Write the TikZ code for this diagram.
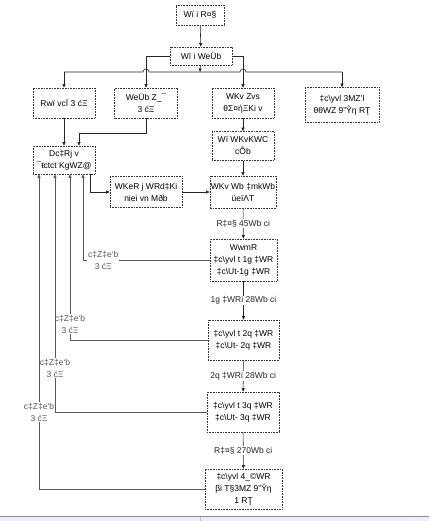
\documentclass[tikz,border=0pt]{standalone}
\usepackage{fontspec}
\setmainfont{Liberation Sans}
\usetikzlibrary{arrows.meta}
\tikzset{
  flow box/.style={
    draw=black!80,densely dotted,line width=0.6pt,align=center,
    inner sep=1pt,font=\fontsize{8.5}{12}\selectfont
  },
  flow arrow/.style={black!85,line width=0.6pt,-{Triangle[length=3.5pt,width=3pt]}},
  flow back/.style={black!65,line width=0.8pt,-{Triangle[length=3.5pt,width=3pt]}},
  flow line/.style={black!85,line width=0.6pt},
  flow note/.style={fill=white,inner sep=1pt,align=center,font=\fontsize{8.5}{12}\selectfont}
}
\newcommand{\bsl}{\textbackslash}

\begin{document}
\begin{tikzpicture}[x=1pt,y=-1pt]
  \useasboundingbox (0,0) rectangle (429,521);
  % top of the chart
  \node[flow box,minimum width=48pt,minimum height=20pt] (top) at (200,15) {Wï i R¤§};
  \node[flow box,minimum width=62pt,minimum height=18pt] (menu) at (201,56) {Wï i WeÜb};
  \node[flow box,minimum width=62pt,minimum height=30pt] (a) at (64,103) {Rwï vcÏ 3 ćΞ};
  \node[flow box,minimum width=63pt,minimum height=30pt] (b) at (146,103) {WeÜb Z\_¯\\3 ćΞ};
  \node[flow box,minimum width=62pt,minimum height=30pt] (c) at (243,103) {WKv Zvs\\θΣ¤ήΞKi v};
  \node[flow box,minimum width=74pt,minimum height=35pt] (d) at (342,105) {‡c\bsl yvl 3MZ'l\\θθWZ 9"Ŷη RŢ};
  % middle row
  \node[flow box,minimum width=62pt,minimum height=28pt] (e) at (64,160) {Dc‡Rj v\\¯ŧctct KgWZ@};
  \node[flow box,minimum width=62pt,minimum height=29pt] (f) at (243,146) {Wï WKvKWC\\cÕb};
  \node[flow box,minimum width=72pt,minimum height=31pt] (h) at (146,192) {WKeR j WRd‡Ki\\niei vn Mðb};
  \node[flow box,minimum width=62pt,minimum height=32pt] (g) at (243,192) {WKv Wb ‡mkWb\\üeïΛT};
  % steps down the right
  \node[flow box,minimum width=67pt,minimum height=42pt] (i) at (243.5,260) {WwmR\\‡c\bsl yvl t 1g ‡WR\\‡c\bsl Ut-1g ‡WR};
  \node[flow box,minimum width=71pt,minimum height=40pt] (j) at (243.5,340) {‡c\bsl yvl t 2q ‡WR\\‡c\bsl Ut- 2q ‡WR};
  \node[flow box,minimum width=72pt,minimum height=40pt] (k) at (243,412) {‡c\bsl yvl t 3q ‡WR\\‡c\bsl Ut- 3q ‡WR};
  \node[flow box,minimum width=77pt,minimum height=40pt] (l) at (243.5,489) {‡c\bsl yvl 4\_©WR\\βi T§3MZ 9"Ŷη\\1 RŢ};

  % bus under the menu
  \coordinate (bus) at (200,72);
  \coordinate (busL) at (64,72);
  \coordinate (busR) at (342,72);
  \draw[flow arrow] (top) -- (menu);
  \draw[flow arrow] (menu) -- (bus);
  \draw[flow line] (busL) -- (143,72) arc[start angle=180,end angle=360,radius=3]
    -- (240,72) arc[start angle=180,end angle=360,radius=3] -- (busR);
  \draw[flow arrow] (busL) -- (a);
  \draw[flow arrow] (busR) -- (d);
  \draw[flow arrow] (menu.west) -| (b.north);
  \draw[flow arrow] (menu.east) -| (c.north);

  \draw[flow arrow] (a) -- (e);
  \draw[flow arrow] (b.south) -- ++(0,15) -| ([xshift=15pt]e.north);
  \draw[flow arrow] (c) -- (f);
  \draw[flow arrow] (f) -- (g);
  \draw[flow arrow] ([xshift=26pt]e.south) |- (h.west);
  \draw[flow arrow] (h) -- (g);
  \draw[flow arrow] (g) -- node[flow note] {R‡¤§ 45Wb ci} (i);
  \draw[flow arrow] (i) -- node[flow note] {1g ‡WRi 28Wb ci} (j);
  \draw[flow arrow] (j) -- node[flow note] {2q ‡WRi 28Wb ci} (k);
  \draw[flow arrow] (k) -- node[flow note] {R‡¤§ 270Wb ci} (l);

  % loops back
  \draw[flow back] (i.west) -| node[flow note,pos=0.42] {c‡Z‡e`b\\3 ćΞ} ([xshift=19pt]e.south);
  \draw[flow back] (j.west) -| node[flow note,pos=0.548] {c‡Z‡e`b\\3 ćΞ} ([xshift=6pt]e.south);
  \draw[flow back] (k.west) -| node[flow note,pos=0.592] {c‡Z‡e`b\\3 ćΞ} ([xshift=-9pt]e.south);
  \draw[flow back] (l.west) -| node[flow note,pos=0.622] {c‡Z‡e`b\\3 ćΞ} ([xshift=-25pt]e.south);

  % strip at the bottom
  \fill[blue!7] (0,516) rectangle (429,521);
  \draw[black!45] (0,516) -- (429,516);
  \draw[black!25] (200,517) -- (200,521);
\end{tikzpicture}
\end{document}
